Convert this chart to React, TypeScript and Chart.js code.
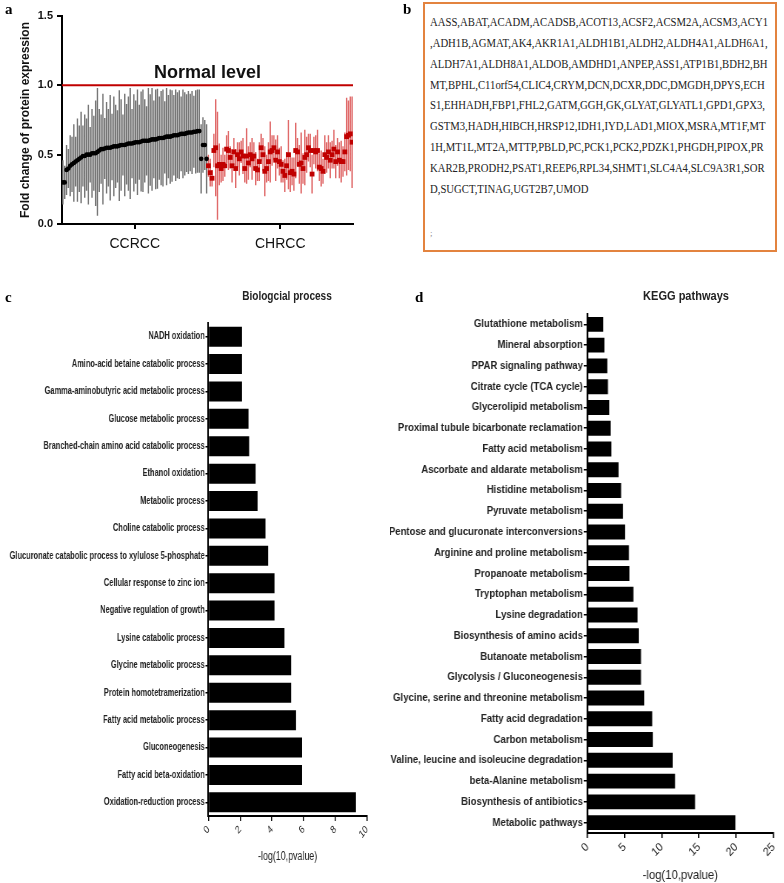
import React, { useEffect, useRef } from 'react';
import { Chart, registerables } from 'chart.js';
Chart.register(...registerables);

// ---------- Panel a data ----------
const groupLabels = ['CCRCC', 'CHRCC'];
const yTicksA = [0, 0.5, 1.0, 1.5];
const normalLevel = 1.0;
const normalLabel = 'Normal level';
const ccrccMean = [
  0.30, 0.30, 0.39, 0.40, 0.42, 0.43, 0.44, 0.45, 0.46, 0.47,
  0.48, 0.49, 0.49, 0.50, 0.50, 0.50, 0.51, 0.51, 0.51, 0.52,
  0.53, 0.54, 0.54, 0.545, 0.55, 0.55, 0.55, 0.555, 0.56, 0.56,
  0.56, 0.565, 0.57, 0.57, 0.57, 0.575, 0.58, 0.58, 0.58, 0.585,
  0.59, 0.59, 0.59, 0.595, 0.60, 0.60, 0.60, 0.60, 0.605, 0.61,
  0.61, 0.61, 0.615, 0.62, 0.62, 0.62, 0.625, 0.63, 0.63, 0.63,
  0.635, 0.64, 0.64, 0.64, 0.645, 0.65, 0.65, 0.65, 0.655, 0.66,
  0.66, 0.66, 0.665, 0.665, 0.67, 0.67,
  0.47, 0.57, 0.57, 0.47,
];
const ccrccSd = [
  0.16, 0.12, 0.18, 0.14, 0.22, 0.20, 0.28, 0.18, 0.30, 0.24,
  0.33, 0.22, 0.30, 0.26, 0.36, 0.20, 0.32, 0.27, 0.38, 0.46,
  0.30, 0.25, 0.40, 0.22, 0.33, 0.28, 0.38, 0.24, 0.36, 0.30,
  0.26, 0.40, 0.33, 0.22, 0.37, 0.29, 0.34, 0.40, 0.25, 0.35,
  0.30, 0.38, 0.27, 0.36, 0.37, 0.30, 0.25, 0.38, 0.33, 0.37,
  0.28, 0.36, 0.36, 0.30, 0.34, 0.35, 0.26, 0.35, 0.30, 0.34,
  0.33, 0.29, 0.33, 0.31, 0.32, 0.27, 0.32, 0.30, 0.28, 0.30,
  0.28, 0.30, 0.26, 0.30, 0.30, 0.30,
  0.25, 0.20, 0.18, 0.25,
];
const chrccMean = [
  0.42, 0.37, 0.33, 0.53, 0.55, 0.42, 0.43, 0.40, 0.43, 0.42,
  0.54, 0.53, 0.48, 0.42, 0.52, 0.40, 0.50, 0.47, 0.52, 0.49,
  0.40, 0.49, 0.44, 0.50, 0.47, 0.49, 0.40, 0.39, 0.45, 0.55,
  0.50, 0.38, 0.40, 0.45, 0.52, 0.53, 0.55, 0.46, 0.52, 0.45,
  0.43, 0.38, 0.35, 0.42, 0.50, 0.37, 0.38, 0.36, 0.53, 0.52,
  0.43, 0.44, 0.40, 0.48, 0.50, 0.55, 0.53, 0.36, 0.53, 0.52,
  0.53, 0.41, 0.40, 0.38, 0.50, 0.48, 0.52, 0.46, 0.50, 0.54,
  0.45, 0.52, 0.46, 0.45, 0.45, 0.52, 0.63, 0.64, 0.65, 0.59,
];
const chrccSd = [
  0.08, 0.10, 0.06, 0.12, 0.35, 0.39, 0.15, 0.10, 0.12, 0.08,
  0.10, 0.14, 0.08, 0.12, 0.10, 0.14, 0.09, 0.12, 0.08, 0.13,
  0.10, 0.20, 0.12, 0.09, 0.15, 0.10, 0.12, 0.08, 0.14, 0.10,
  0.12, 0.18, 0.10, 0.14, 0.22, 0.11, 0.09, 0.15, 0.12, 0.10,
  0.13, 0.08, 0.12, 0.10, 0.25, 0.14, 0.10, 0.12, 0.20, 0.10,
  0.14, 0.22, 0.11, 0.20, 0.13, 0.10, 0.12, 0.14, 0.10, 0.12,
  0.15, 0.10, 0.13, 0.09, 0.14, 0.11, 0.12, 0.13, 0.10, 0.14,
  0.12, 0.10, 0.13, 0.15, 0.11, 0.14, 0.28, 0.25, 0.27, 0.33,
];

// ---------- Panel b data ----------
const geneLines = [
  'AASS,ABAT,ACADM,ACADSB,ACOT13,ACSF2,ACSM2A,ACSM3,ACY1',
  ',ADH1B,AGMAT,AK4,AKR1A1,ALDH1B1,ALDH2,ALDH4A1,ALDH6A1,',
  'ALDH7A1,ALDH8A1,ALDOB,AMDHD1,ANPEP,ASS1,ATP1B1,BDH2,BH',
  'MT,BPHL,C11orf54,CLIC4,CRYM,DCN,DCXR,DDC,DMGDH,DPYS,ECH',
  'S1,EHHADH,FBP1,FHL2,GATM,GGH,GK,GLYAT,GLYATL1,GPD1,GPX3,',
  'GSTM3,HADH,HIBCH,HRSP12,IDH1,IYD,LAD1,MIOX,MSRA,MT1F,MT',
  '1H,MT1L,MT2A,MTTP,PBLD,PC,PCK1,PCK2,PDZK1,PHGDH,PIPOX,PR',
  'KAR2B,PRODH2,PSAT1,REEP6,RPL34,SHMT1,SLC4A4,SLC9A3R1,SOR',
  'D,SUGCT,TINAG,UGT2B7,UMOD',
];

// ---------- Panel c data ----------
const bpTitle = 'Biologcial process';
const bpLabels = [
  'NADH oxidation',
  'Amino-acid betaine catabolic process',
  'Gamma-aminobutyric acid metabolic process',
  'Glucose metabolic process',
  'Branched-chain amino acid catabolic process',
  'Ethanol oxidation',
  'Metabolic process',
  'Choline catabolic process',
  'Glucuronate catabolic process to xylulose 5-phosphate',
  'Cellular response to zinc ion',
  'Negative regulation of growth',
  'Lysine catabolic process',
  'Glycine metabolic process',
  'Protein homotetramerization',
  'Fatty acid metabolic process',
  'Gluconeogenesis',
  'Fatty acid beta-oxidation',
  'Oxidation-reduction process',
];
const bpValues = [2.12, 2.12, 2.12, 2.53, 2.57, 2.98, 3.1, 3.6, 3.77, 4.17, 4.17, 4.8, 5.22, 5.22, 5.53, 5.91, 5.91, 9.31];

// ---------- Panel d data ----------
const keggTitle = 'KEGG pathways';
const keggLabels = [
  'Glutathione metabolism',
  'Mineral absorption',
  'PPAR signaling pathway',
  'Citrate cycle (TCA cycle)',
  'Glycerolipid metabolism',
  'Proximal tubule bicarbonate reclamation',
  'Fatty acid metabolism',
  'Ascorbate and aldarate metabolism',
  'Histidine metabolism',
  'Pyruvate metabolism',
  'Pentose and glucuronate interconversions',
  'Arginine and proline metabolism',
  'Propanoate metabolism',
  'Tryptophan metabolism',
  'Lysine degradation',
  'Biosynthesis of amino acids',
  'Butanoate metabolism',
  'Glycolysis / Gluconeogenesis',
  'Glycine, serine and threonine metabolism',
  'Fatty acid degradation',
  'Carbon metabolism',
  'Valine, leucine and isoleucine degradation',
  'beta-Alanine metabolism',
  'Biosynthesis of antibiotics',
  'Metabolic pathways',
];
const keggValues = [2.15, 2.3, 2.7, 2.78, 2.96, 3.14, 3.23, 4.2, 4.55, 4.8, 5.07, 5.6, 5.67, 6.2, 6.75, 6.92, 7.22, 7.22, 7.65, 8.72, 8.8, 11.47, 11.8, 14.48, 19.9];
const xTitle = '-log(10,pvalue)';

const SANS = '"Liberation Sans", Arial, sans-serif';
const SERIF = '"Liberation Serif", "Times New Roman", serif';

function PanelA() {
  const ref = useRef<HTMLCanvasElement>(null);
  useEffect(() => {
    const nA = ccrccMean.length;
    const nB = chrccMean.length;
    const xMax = nA + nB;
    const errorBars = {
      id: 'errorBars',
      beforeDatasetsDraw(chart: any) {
        const { ctx, scales } = chart;
        const x = scales.x, y = scales.y;
        const draw = (means: number[], sds: number[], off: number, color: string) => {
          ctx.save();
          ctx.strokeStyle = color;
          ctx.lineWidth = 1.4;
          ctx.beginPath();
          means.forEach((m, i) => {
            const px = x.getPixelForValue(off + i + 0.5);
            ctx.moveTo(px, y.getPixelForValue(m + sds[i]));
            ctx.lineTo(px, y.getPixelForValue(Math.max(0, m - sds[i])));
          });
          ctx.stroke();
          ctx.restore();
        };
        draw(ccrccMean, ccrccSd, 0, '#777777');
        draw(chrccMean, chrccSd, nA, '#e06a6a');
      },
      afterDatasetsDraw(chart: any) {
        const { ctx, scales } = chart;
        ctx.save();
        ctx.font = 'bold 18px ' + SANS;
        ctx.fillStyle = '#111';
        ctx.textAlign = 'center';
        ctx.textBaseline = 'alphabetic';
        ctx.fillText(normalLabel, scales.x.getPixelForValue(xMax / 2), scales.y.getPixelForValue(normalLevel + 0.05));
        ctx.restore();
      },
    };
    const chart = new Chart(ref.current!, {
      type: 'scatter',
      data: {
        datasets: [
          {
            type: 'line',
            data: [{ x: 0, y: normalLevel }, { x: xMax, y: normalLevel }],
            borderColor: '#c00000',
            borderWidth: 2,
            pointRadius: 0,
          } as any,
          {
            data: ccrccMean.map((v, i) => ({ x: i + 0.5, y: v })),
            backgroundColor: '#000',
            borderColor: '#000',
            pointRadius: 2.3,
            borderWidth: 0,
          },
          {
            data: chrccMean.map((v, i) => ({ x: nA + i + 0.5, y: v })),
            backgroundColor: '#c00000',
            borderColor: '#c00000',
            pointStyle: 'rect',
            pointRadius: 3.4,
            borderWidth: 0,
          },
        ],
      },
      options: {
        animation: false,
        responsive: false,
        maintainAspectRatio: false,
        layout: { padding: { top: 16, right: 17, left: 0, bottom: 0 } },
        plugins: { legend: { display: false }, tooltip: { enabled: false } },
        scales: {
          x: {
            type: 'linear',
            min: 0,
            max: xMax,
            afterBuildTicks: (s: any) => {
              s.ticks = [{ value: nA / 2 }, { value: nA + nB / 2 }];
            },
            ticks: {
              callback: (v: any) => (v < nA ? groupLabels[0] : groupLabels[1]),
              font: { size: 14, family: SANS },
              color: '#111',
              padding: 7,
              maxRotation: 0,
            },
            grid: { drawOnChartArea: false, drawTicks: true, tickLength: 5, color: '#000', lineWidth: 2 },
            border: { color: '#000', width: 2 },
            afterFit: (s: any) => { s.height = 38; },
          },
          y: {
            min: 0,
            max: 1.5,
            afterBuildTicks: (s: any) => {
              s.ticks = yTicksA.map((v) => ({ value: v }));
            },
            ticks: {
              callback: (v: any) => Number(v).toFixed(1),
              font: { size: 11, weight: 'bold', family: SANS },
              color: '#111',
              padding: 4,
            },
            grid: { drawOnChartArea: false, drawTicks: true, tickLength: 5, color: '#000', lineWidth: 2 },
            border: { color: '#000', width: 2 },
            title: {
              display: true,
              text: 'Fold change of protein expression',
              font: { size: 12, weight: 'bold', family: SANS },
              color: '#111',
              padding: { top: 18, bottom: 0 },
            },
            afterFit: (s: any) => { s.width = 62; },
          },
        },
      } as any,
      plugins: [errorBars],
    });
    return () => chart.destroy();
  }, []);
  return <canvas ref={ref} width={370} height={262} style={{ position: 'absolute', left: 0, top: 0, width: 370, height: 262 }} />;
}

// The bar panels are drawn on a canvas that is wider than its CSS box and squeezed
// horizontally (sx), reproducing the condensed look of the original figure.
function BarPanel(props: {
  labels: string[]; values: number[]; max: number; step: number; sx: number;
  left: number; width: number; axisLeft: number; axisRight: number; padTop: number;
  xAxisHeight: number; labelSize: number; tickSize: number; titleSize: number; titlePad: number; barPct: number;
}) {
  const ref = useRef<HTMLCanvasElement>(null);
  const p = props;
  const innerW = Math.round(p.width / p.sx);
  useEffect(() => {
    const axisW = (p.axisLeft - p.left) / p.sx;
    const padRight = innerW - (p.axisRight - p.left) / p.sx;
    const chart = new Chart(ref.current!, {
      type: 'bar',
      data: {
        labels: p.labels,
        datasets: [{
          data: p.values,
          backgroundColor: '#000',
          borderWidth: 0,
          barPercentage: p.barPct,
          categoryPercentage: 1,
        }],
      },
      options: {
        indexAxis: 'y',
        animation: false,
        responsive: false,
        maintainAspectRatio: false,
        layout: { padding: { top: p.padTop, right: padRight, left: 0, bottom: 0 } },
        plugins: { legend: { display: false }, tooltip: { enabled: false } },
        scales: {
          x: {
            min: 0,
            max: p.max,
            ticks: {
              stepSize: p.step,
              minRotation: 45,
              maxRotation: 45,
              font: { size: p.tickSize, family: SANS },
              color: '#222',
              padding: 2,
            },
            grid: { drawOnChartArea: false, drawTicks: true, tickLength: 5, color: '#000', lineWidth: 1.5 },
            border: { color: '#000', width: 2 },
            title: {
              display: true,
              text: xTitle,
              font: { size: p.titleSize, family: SANS },
              color: '#222',
              padding: { top: 0, bottom: p.titlePad },
            },
            afterFit: (s: any) => { s.height = p.xAxisHeight; },
          },
          y: {
            ticks: {
              font: { size: p.labelSize, weight: 'bold', family: SANS },
              color: '#222',
              padding: 1,
              autoSkip: false,
            },
            grid: { offset: false, drawOnChartArea: false, drawTicks: true, tickLength: 4, color: '#000', lineWidth: 1.5 },
            border: { color: '#000', width: 2 },
            afterFit: (s: any) => { s.width = axisW; },
          },
        },
      } as any,
    });
    return () => chart.destroy();
  }, []);
  return <canvas ref={ref} width={innerW} height={583} style={{ position: 'absolute', left: p.left, top: 300, width: p.width, height: 583 }} />;
}

function measureText(text: string, font: string) {
  const c = document.createElement('canvas').getContext('2d')!;
  c.font = font;
  return c.measureText(text).width;
}

function PanelB() {
  const font = '12px ' + SERIF;
  const k = 338 / measureText(geneLines[0], font);
  return (
    <div style={{ position: 'absolute', left: 423, top: 2, width: 350, height: 246, border: '2px solid #e3833f', boxSizing: 'content-box' }}>
      <div style={{ position: 'absolute', left: 5, top: 8 }}>
        {geneLines.map((l, i) => (
          <div key={i} style={{ font, color: '#222', lineHeight: '20.85px', whiteSpace: 'nowrap', transform: `scaleX(${k})`, transformOrigin: 'left center' }}>{l}</div>
        ))}
        <div style={{ font: '9px ' + SERIF, color: '#888', lineHeight: '20px', marginTop: 23 }}>;</div>
      </div>
    </div>
  );
}

const panelLabel = (t: string, left: number, top: number) => (
  <div style={{ position: 'absolute', left, top, font: 'bold 15px ' + SERIF, color: '#000', lineHeight: '15px' }}>{t}</div>
);

const panelTitle = (t: string, cx: number, sx: number) => (
  <div style={{ position: 'absolute', left: cx - 100, top: 289, width: 200, textAlign: 'center', font: 'bold 12px ' + SANS, color: '#222', transform: `scaleX(${sx})`, transformOrigin: 'center' }}>{t}</div>
);

export default function App() {
  return (
    <div style={{ position: 'absolute', left: 0, top: 0, width: 784, height: 883, background: '#fff', overflow: 'hidden' }}>
      <PanelA />
      <PanelB />
      <BarPanel labels={bpLabels} values={bpValues} max={10} step={2} sx={0.74} left={0} width={385}
        axisLeft={208.3} axisRight={366.7} padTop={23} xAxisHeight={67} labelSize={10} tickSize={11}
        titleSize={12} titlePad={19} barPct={0.73} />
      <BarPanel labels={keggLabels} values={keggValues} max={25} step={5} sx={0.87} left={390} width={394}
        axisLeft={587.3} axisRight={781} padTop={14} xAxisHeight={50} labelSize={11} tickSize={12}
        titleSize={13} titlePad={0} barPct={0.72} />
      {panelTitle(bpTitle, 287, 0.84)}
      {panelTitle(keggTitle, 686, 0.92)}
      {panelLabel('a', 5, 2)}
      {panelLabel('b', 403, 2)}
      {panelLabel('c', 5, 290)}
      {panelLabel('d', 415, 290)}
    </div>
  );
}
